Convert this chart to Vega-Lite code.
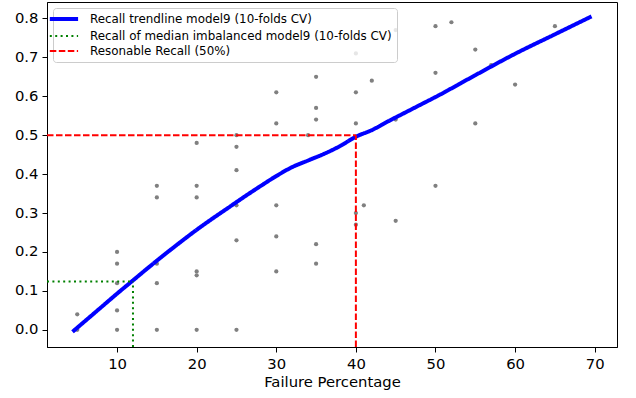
{
  "$schema": "https://vega.github.io/schema/vega-lite/v6.json",
  "width": 570,
  "height": 345,
  "autosize": {"type": "none"},
  "padding": {"left": 47, "top": 2, "right": 19, "bottom": 51},
  "background": "white",
  "config": {
    "font": "DejaVu Sans",
    "view": {"stroke": "black", "strokeWidth": 1},
    "axis": {
      "grid": false,
      "domainColor": "black",
      "tickColor": "black",
      "tickSize": 5,
      "labelFontSize": 14.8,
      "labelColor": "black",
      "labelPadding": 4,
      "titleFontSize": 14.8,
      "titleFontWeight": "normal",
      "titleColor": "black",
      "titlePadding": 4
    },
    "legend": {
      "orient": "top-left",
      "offset": 6,
      "padding": 5,
      "strokeColor": "#cccccc",
      "fillColor": "rgba(255,255,255,0.8)",
      "cornerRadius": 3,
      "labelFontSize": 11.9,
      "labelColor": "black",
      "symbolType": "stroke",
      "symbolSize": 800,
      "symbolStrokeWidth": 2,
      "rowPadding": 2,
      "labelOffset": 20,
      "labelLimit": 400
    }
  },
  "datasets": {
    "points": [
      {"fail": 5, "recall": 0.04}, {"fail": 5, "recall": 0.0},
      {"fail": 10, "recall": 0.2}, {"fail": 10, "recall": 0.17}, {"fail": 10, "recall": 0.12}, {"fail": 10, "recall": 0.05}, {"fail": 10, "recall": 0.0},
      {"fail": 15, "recall": 0.37}, {"fail": 15, "recall": 0.34}, {"fail": 15, "recall": 0.17}, {"fail": 15, "recall": 0.12}, {"fail": 15, "recall": 0.0},
      {"fail": 20, "recall": 0.48}, {"fail": 20, "recall": 0.37}, {"fail": 20, "recall": 0.34}, {"fail": 20, "recall": 0.15}, {"fail": 20, "recall": 0.14}, {"fail": 20, "recall": 0.0},
      {"fail": 25, "recall": 0.5}, {"fail": 25, "recall": 0.47}, {"fail": 25, "recall": 0.41}, {"fail": 25, "recall": 0.32}, {"fail": 25, "recall": 0.23}, {"fail": 25, "recall": 0.0},
      {"fail": 30, "recall": 0.61}, {"fail": 30, "recall": 0.53}, {"fail": 30, "recall": 0.32}, {"fail": 30, "recall": 0.24}, {"fail": 30, "recall": 0.15},
      {"fail": 34, "recall": 0.5},
      {"fail": 35, "recall": 0.65}, {"fail": 35, "recall": 0.57}, {"fail": 35, "recall": 0.54}, {"fail": 35, "recall": 0.22}, {"fail": 35, "recall": 0.17},
      {"fail": 40, "recall": 0.71}, {"fail": 40, "recall": 0.61}, {"fail": 40, "recall": 0.53}, {"fail": 40, "recall": 0.3}, {"fail": 40, "recall": 0.27},
      {"fail": 41, "recall": 0.32}, {"fail": 42, "recall": 0.64},
      {"fail": 45, "recall": 0.77}, {"fail": 45, "recall": 0.54}, {"fail": 45, "recall": 0.28},
      {"fail": 50, "recall": 0.78}, {"fail": 50, "recall": 0.66}, {"fail": 50, "recall": 0.37},
      {"fail": 52, "recall": 0.79},
      {"fail": 55, "recall": 0.72}, {"fail": 55, "recall": 0.53},
      {"fail": 57, "recall": 0.68}, {"fail": 60, "recall": 0.63}, {"fail": 65, "recall": 0.78}
    ],
    "trend": [
      {"fail": 4.4, "recall": -0.005}, {"fail": 6, "recall": 0.023}, {"fail": 8, "recall": 0.058},
      {"fail": 10, "recall": 0.093}, {"fail": 12, "recall": 0.127}, {"fail": 14, "recall": 0.161},
      {"fail": 16, "recall": 0.194}, {"fail": 18, "recall": 0.226}, {"fail": 20, "recall": 0.257},
      {"fail": 22, "recall": 0.286}, {"fail": 24, "recall": 0.314}, {"fail": 26, "recall": 0.342},
      {"fail": 28, "recall": 0.369}, {"fail": 30, "recall": 0.395}, {"fail": 32, "recall": 0.418},
      {"fail": 34, "recall": 0.435}, {"fail": 36, "recall": 0.452}, {"fail": 38, "recall": 0.472},
      {"fail": 40, "recall": 0.496}, {"fail": 42, "recall": 0.513}, {"fail": 44, "recall": 0.535},
      {"fail": 46, "recall": 0.556}, {"fail": 48, "recall": 0.577}, {"fail": 50, "recall": 0.598},
      {"fail": 55, "recall": 0.654}, {"fail": 60, "recall": 0.709}, {"fail": 65, "recall": 0.759},
      {"fail": 69.6, "recall": 0.805}
    ],
    "rules": [
      {"series": "Recall of median imbalanced model9 (10-folds CV)", "x": 1.2, "x2": 12, "y": 0.124, "y2": 0.124},
      {"series": "Recall of median imbalanced model9 (10-folds CV)", "x": 12, "x2": 12, "y": -0.044, "y2": 0.124},
      {"series": "Resonable Recall (50%)", "x": 1.2, "x2": 40, "y": 0.5, "y2": 0.5},
      {"series": "Resonable Recall (50%)", "x": 40, "x2": 40, "y": -0.044, "y2": 0.5}
    ]
  },
  "layer": [
    {
      "data": {"name": "points"},
      "mark": {"type": "circle", "size": 18, "color": "#808080", "opacity": 1},
      "encoding": {
        "x": {"field": "fail", "type": "quantitative",
              "scale": {"domain": [1.2, 72.8], "nice": false, "zero": false},
              "axis": {"values": [10, 20, 30, 40, 50, 60, 70], "title": "Failure Percentage"}},
        "y": {"field": "recall", "type": "quantitative",
              "scale": {"domain": [-0.044, 0.842], "nice": false, "zero": false},
              "axis": {"values": [0, 0.1, 0.2, 0.3, 0.4, 0.5, 0.6, 0.7, 0.8], "format": ".1f", "title": null}}
      }
    },
    {
      "data": {"name": "trend"},
      "transform": [{"calculate": "'Recall trendline model9 (10-folds CV)'", "as": "series"}],
      "mark": {"type": "line", "strokeWidth": 4, "interpolate": "monotone"},
      "encoding": {
        "x": {"field": "fail", "type": "quantitative"},
        "y": {"field": "recall", "type": "quantitative"},
        "color": {"field": "series", "type": "nominal"},
        "strokeDash": {"field": "series", "type": "nominal"}
      }
    },
    {
      "data": {"name": "rules"},
      "mark": {"type": "rule", "strokeWidth": 2},
      "encoding": {
        "x": {"field": "x", "type": "quantitative"},
        "x2": {"field": "x2"},
        "y": {"field": "y", "type": "quantitative"},
        "y2": {"field": "y2"},
        "color": {"field": "series", "type": "nominal",
                  "scale": {"domain": ["Recall trendline model9 (10-folds CV)", "Recall of median imbalanced model9 (10-folds CV)", "Resonable Recall (50%)"],
                            "range": ["#0000ff", "#008000", "#ff0000"]},
                  "legend": {"title": null,
                             "encode": {"symbols": {"update": {"strokeWidth": {"signal": "datum.index === 0 ? 4 : 2"}}}}}},
        "strokeDash": {"field": "series", "type": "nominal",
                       "scale": {"domain": ["Recall trendline model9 (10-folds CV)", "Recall of median imbalanced model9 (10-folds CV)", "Resonable Recall (50%)"],
                                 "range": [[1, 0], [2, 3.4], [6.5, 2.5]]},
                       "legend": {"title": null}}
      }
    }
  ]
}
